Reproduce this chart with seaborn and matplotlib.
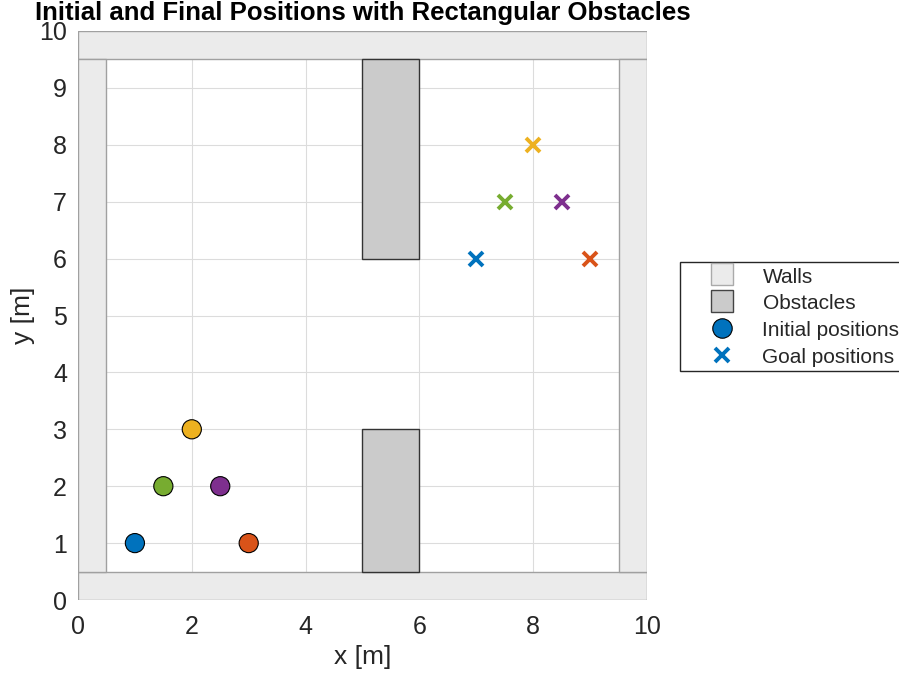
import matplotlib
matplotlib.use("Agg")
import matplotlib.pyplot as plt
from matplotlib.patches import Rectangle
from matplotlib.lines import Line2D
import seaborn as sns
import pandas as pd

sns.set_style("white")
plt.rcParams["font.family"] = ["Liberation Sans", "DejaVu Sans"]

# Agent start and goal coordinates (one colour per agent)
agents = ["A1", "A2", "A3", "A4", "A5"]
start_x = [1.0, 3.0, 2.0, 1.5, 2.5]
start_y = [1.0, 1.0, 3.0, 2.0, 2.0]
goal_x = [7.0, 9.0, 8.0, 7.5, 8.5]
goal_y = [6.0, 6.0, 8.0, 7.0, 7.0]
agent_colors = ["#0072BD", "#D95319", "#EDB120", "#77AC30", "#7E2F8E"]

# Rectangles as (x, y, width, height)
walls = [(0, 0, 10, 0.5), (0, 9.5, 10, 0.5), (0, 0.5, 0.5, 9.0), (9.5, 0.5, 0.5, 9.0)]
obstacles = [(5, 6, 1, 3.5), (5, 0.5, 1, 2.5)]

x_ticks = [0, 2, 4, 6, 8, 10]
y_ticks = list(range(0, 11))

starts = pd.DataFrame({"agent": agents, "x": start_x, "y": start_y})
palette = dict(zip(agents, agent_colors))

wall_face, wall_edge = "#ebebeb", "#a0a0a0"
obst_face, obst_edge = "#cbcbcb", "#333333"
text_color = "#262626"

fig = plt.figure(figsize=(8.99, 6.73), dpi=100)
ax = fig.add_axes([78 / 899, 73 / 673, 569 / 899, 569 / 673])

for (x, y, w, h) in walls:
    ax.add_patch(Rectangle((x, y), w, h, facecolor=wall_face,
                           edgecolor=wall_edge, linewidth=1.0, zorder=2))
for (x, y, w, h) in obstacles:
    ax.add_patch(Rectangle((x, y), w, h, facecolor=obst_face,
                           edgecolor=obst_edge, linewidth=1.0, zorder=2))

sns.scatterplot(data=starts, x="x", y="y", hue="agent", palette=palette,
                s=190, edgecolor="black", linewidth=0.8, legend=False,
                zorder=4, ax=ax)
for gx, gy, c in zip(goal_x, goal_y, agent_colors):
    ax.plot(gx, gy, marker="x", markersize=10, markeredgewidth=2.8,
            color=c, linestyle="none", zorder=4)

ax.set_xlim(0, 10)
ax.set_ylim(0, 10)
ax.set_aspect("equal")
ax.set_xticks(x_ticks)
ax.set_yticks(y_ticks)
ax.grid(True, color="#dcdcdc", linewidth=0.8)
ax.set_axisbelow(True)
for s in ax.spines.values():
    s.set_visible(False)
ax.tick_params(axis="both", length=0, labelsize=18, colors=text_color)
ax.tick_params(axis="x", pad=11)
ax.tick_params(axis="y", pad=8)

ax.set_xlabel("x [m]", fontsize=19, color=text_color, labelpad=4)
ax.set_ylabel("y [m]", fontsize=19, color=text_color, labelpad=3)
ax.set_title("Initial and Final Positions with Rectangular Obstacles",
             fontsize=18.5, fontweight="bold", color="black", pad=8)

handles = [
    Line2D([], [], marker="s", linestyle="none", markersize=16,
           markerfacecolor=wall_face, markeredgecolor="#aaaaaa", markeredgewidth=1),
    Line2D([], [], marker="s", linestyle="none", markersize=16,
           markerfacecolor=obst_face, markeredgecolor="#444444", markeredgewidth=1),
    Line2D([], [], marker="o", linestyle="none", markersize=14,
           markerfacecolor=agent_colors[0], markeredgecolor="black", markeredgewidth=0.8),
    Line2D([], [], marker="x", linestyle="none", markersize=10,
           markeredgewidth=2.8, color=agent_colors[0]),
]
labels = ["Walls", "Obstacles", "Initial positions", "Goal positions"]
fig.legend(handles, labels, loc="upper left", bbox_to_anchor=(680 / 899, 1 - 262 / 673),
           frameon=True, fancybox=False, edgecolor=text_color, fontsize=15,
           handlelength=3.6, handleheight=1.0, handletextpad=0.16, borderpad=0.2,
           labelspacing=0.3, borderaxespad=0, framealpha=1)

fig.savefig("out.png", dpi=100)
